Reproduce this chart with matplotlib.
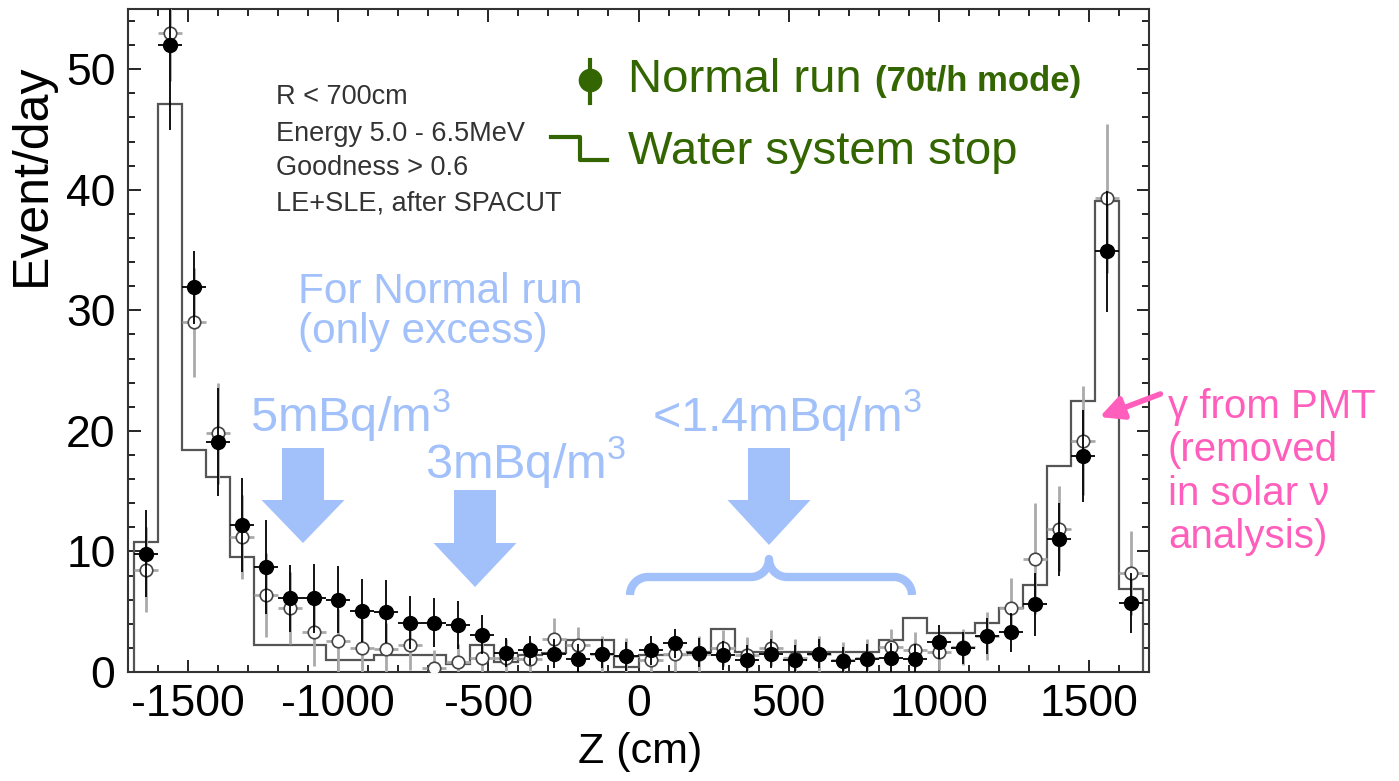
import numpy as np
import matplotlib
matplotlib.use("Agg")
import matplotlib.pyplot as plt
from matplotlib.ticker import MultipleLocator
from matplotlib.patches import Polygon, FancyArrowPatch
from matplotlib.lines import Line2D

plt.rcParams['font.family'] = ['Liberation Sans', 'DejaVu Sans']
plt.rcParams['axes.unicode_minus'] = False
plt.rcParams['mathtext.fontset'] = 'custom'
plt.rcParams['mathtext.rm'] = 'Liberation Sans'
plt.rcParams['mathtext.default'] = 'regular'

# bin edges in Z (cm), 80 cm bins
edges = np.arange(-1680, 1681, 80)
centers = (edges[:-1] + edges[1:]) / 2

# Normal run (70t/h mode), filled points
normal = [9.8, 52.0, 31.9, 19.1, 12.2, 8.7, 6.1, 6.1, 6.0, 5.1, 5.0,
          4.1, 4.1, 3.9, 3.1, 1.6, 1.8, 1.5, 1.1, 1.5, 1.3,
          1.8, 2.4, 1.6, 1.4, 1.0, 1.5, 1.0, 1.5, 0.9, 1.1,
          1.2, 1.1, 2.5, 2.0, 3.0, 3.3, 5.6, 11.0, 17.9, 34.9, 5.7]
normal_err = [3.6, 7.0, 3.0, 4.5, 3.9, 3.9, 2.8, 2.9, 2.8, 2.6, 2.6,
              2.2, 2.0, 2.0, 1.6, 1.2, 1.2, 1.2, 1.2, 1.2, 1.2,
              1.2, 1.2, 1.2, 1.2, 1.2, 1.2, 1.2, 1.2, 1.2, 1.2,
              1.2, 1.2, 1.4, 1.3, 1.5, 1.6, 2.6, 3.0, 3.8, 5.0, 2.5]

# Water system stop, open points
stop_pts = [8.5, 53.0, 29.0, 19.8, 11.2, 6.4, 5.3, 3.3, 2.6, 2.0, 1.9,
            2.2, 0.3, 0.8, 1.2, 1.2, 1.1, 2.7, 2.2, 1.5, 1.3,
            1.0, 1.5, 1.5, 2.0, 1.4, 2.0, 1.2, 1.5, 1.0, 1.2,
            2.1, 1.8, 1.7, 2.1, 3.0, 5.3, 9.4, 11.9, 19.2, 39.3, 8.2]
stop_err = [3.5, 4.0, 4.5, 4.2, 3.5, 3.5, 3.0, 2.8, 2.6, 2.4, 2.2,
            2.0, 1.5, 1.5, 1.5, 1.5, 1.5, 1.8, 1.5, 1.5, 1.5,
            1.5, 1.5, 1.5, 1.5, 1.5, 1.5, 1.5, 1.5, 1.5, 1.5,
            1.5, 1.5, 1.5, 1.5, 2.0, 2.5, 4.6, 3.5, 4.5, 6.2, 3.5]

# Water system stop, step histogram
stop_hist = [10.8, 47.1, 18.4, 16.2, 9.5, 2.2, 2.2, 2.2, 1.0, 1.0, 1.4,
             1.4, 1.4, 0.7, 2.2, 0.8, 1.4, 1.6, 2.65, 2.65, 0.4,
             1.4, 1.4, 1.7, 3.6, 1.7, 1.7, 1.7, 1.7, 1.7, 1.7,
             2.65, 4.5, 3.2, 3.2, 4.1, 5.3, 7.2, 17.1, 22.5, 39.1, 6.9]

cuts = ["R < 700cm", "Energy 5.0 - 6.5MeV", "Goodness > 0.6", "LE+SLE, after SPACUT"]

W, H = 1399, 781
fig = plt.figure(figsize=(W / 100, H / 100), dpi=100)
ax = fig.add_axes([128 / W, 1 - 672 / H, (1149 - 128) / W, (672 - 9) / H])

def P(x, y):
    # figure pixel (from top-left) -> figure fraction
    return x / W, 1 - y / H

ax.stairs(stop_hist, edges, color='#555555', lw=1.6, zorder=2)
ax.errorbar(centers, stop_pts, yerr=stop_err, xerr=40, fmt='o', ms=9,
            mfc='white', mec='#444444', mew=1.2, ecolor='#aaaaaa', elinewidth=2,
            capsize=0, zorder=3)
ax.errorbar(centers, normal, yerr=normal_err, xerr=40, fmt='o', ms=10,
            mfc='black', mec='black', ecolor='black', elinewidth=1.3,
            capsize=0, zorder=4)

ax.set_xlim(-1700, 1700)
ax.set_ylim(0, 55)
ax.xaxis.set_major_locator(MultipleLocator(500))
ax.xaxis.set_minor_locator(MultipleLocator(100))
ax.yaxis.set_major_locator(MultipleLocator(10))
ax.yaxis.set_minor_locator(MultipleLocator(2))
ax.tick_params(which='both', direction='in', top=True, right=True, labelsize=32, width=1.2)
ax.tick_params(which='major', length=9, pad=9)
ax.tick_params(which='minor', length=5)
for s in ax.spines.values():
    s.set_linewidth(1.5)
    s.set_color('#333333')
fig.text(*P(640, 752), 'Z (cm)', fontsize=31, ha='center', va='center')
fig.text(*P(32, 175), 'Event/day', fontsize=36, rotation=90, ha='center', va='center')

# cut list
for i, t in enumerate(cuts):
    fig.text(*P(276, [97, 134, 168, 204][i]), t, fontsize=19.5, color='#333333', va='center')

# legend
green = '#336600'
fig.add_artist(Line2D([590 / W, 590 / W], [1 - 60 / H, 1 - 103 / H], color=green, lw=3))
fig.add_artist(Line2D([590 / W], [1 - 80 / H], marker='o', ms=16, color=green))
fig.add_artist(Line2D([551 / W, 580 / W, 580 / W, 607 / W],
                      [1 - 137 / H, 1 - 137 / H, 1 - 160 / H, 1 - 160 / H], color=green, lw=3))
fig.text(*P(628, 80), 'Normal run', fontsize=34, color=green, va='center')
fig.text(*P(875, 82), '(70t/h mode)', fontsize=25, color=green, va='center', weight='bold')
fig.text(*P(628, 152), 'Water system stop', fontsize=34, color=green, va='center')

# blue annotations
blue = '#a2c1fb'
fig.text(*P(298, 312), 'For Normal run\n(only excess)', fontsize=30.5, color=blue,
         ha='left', va='center', linespacing=1.0)
fig.text(*P(250, 415), '5mBq/m$^3$', fontsize=35, color=blue, ha='left', va='center')
fig.text(*P(425, 462), '3mBq/m$^3$', fontsize=35, color=blue, ha='left', va='center')
fig.text(*P(652, 415), '<1.4mBq/m$^3$', fontsize=35, color=blue, ha='left', va='center')

def block_arrow(xc, top, neck, tip, shaft=42, head=83):
    pts = [(xc - shaft / 2, top), (xc + shaft / 2, top), (xc + shaft / 2, neck),
           (xc + head / 2, neck), (xc, tip), (xc - head / 2, neck), (xc - shaft / 2, neck)]
    fig.add_artist(Polygon([P(*p) for p in pts], closed=True, color=blue, lw=0))

block_arrow(303, 448, 500, 543)
block_arrow(475, 490, 543, 587)
block_arrow(769, 448, 500, 545)

# curly brace
r = 18
bx = []; by = []
a = np.linspace(np.pi, np.pi / 2, 20)
bx += list(630 + r + r * np.cos(a)); by += list(595 - r * np.sin(a))
a = np.linspace(-np.pi / 2, 0, 20)
bx += list(769 - r + r * np.cos(a)); by += list(577 - r - r * np.sin(a))
a = np.linspace(np.pi, 3 * np.pi / 2, 20)
bx += list(769 + r + r * np.cos(a)); by += list(577 - r - r * np.sin(a))
a = np.linspace(np.pi / 2, 0, 20)
bx += list(912 - r + r * np.cos(a)); by += list(595 - r * np.sin(a))
fig.add_artist(Line2D(np.array(bx) / W, 1 - np.array(by) / H, color=blue, lw=6,
                      solid_capstyle='butt', solid_joinstyle='round'))

# PMT gamma annotation
pink = '#ff5ebc'
fig.text(*P(1168, 472), 'γ from PMT\n(removed\nin solar ν\nanalysis)', fontsize=29,
         color=pink, va='center', ha='left', linespacing=1.17)
fig.add_artist(FancyArrowPatch(P(1163, 393), P(1097, 418), arrowstyle='-|>',
                               mutation_scale=35, color=pink, lw=4))

fig.savefig('out.png', dpi=100)
